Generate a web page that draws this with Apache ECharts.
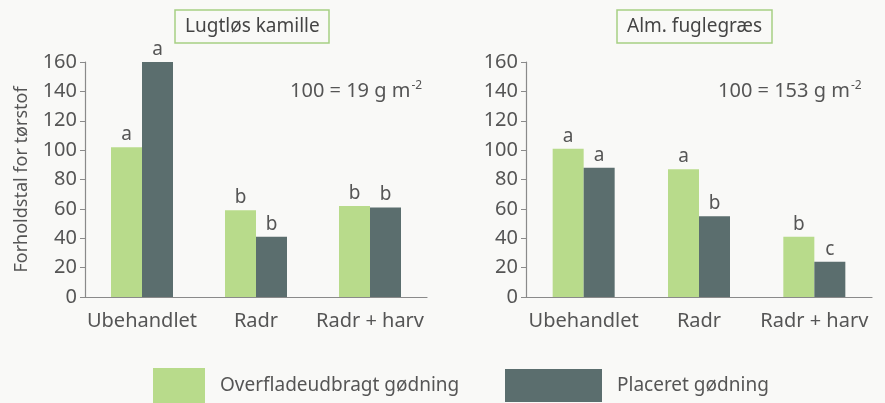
<!DOCTYPE html>
<html>
<head>
<meta charset="utf-8">
<script src="https://cdn.jsdelivr.net/npm/echarts@6/dist/echarts.min.js"></script>
<style>
  html, body { margin: 0; padding: 0; background: #f9f9f7; }
  #chart { width: 885px; height: 403px; }
</style>
</head>
<body>
<div id="chart"></div>
<script>
// data
var categories = ['Ubehandlet', 'Radr', 'Radr + harv'];
var seriesNames = ['Overfladeudbragt gødning', 'Placeret gødning'];

var kamilleOverflade = [102, 59, 62];
var kamillePlaceret = [160, 41, 61];
var kamilleLetters1 = ['a', 'b', 'b'];
var kamilleLetters2 = ['a', 'b', 'b'];

var fuglegraesOverflade = [101, 87, 41];
var fuglegraesPlaceret = [88, 55, 24];
var fuglegraesLetters1 = ['a', 'a', 'b'];
var fuglegraesLetters2 = ['a', 'b', 'c'];

var yTicks = [0, 20, 40, 60, 80, 100, 120, 140, 160];

var green = '#b8db8b';
var dark = '#5b6e6e';
var textColor = '#555';
var font = 'Noto Sans';

var chart = echarts.init(document.getElementById('chart'));

function makeX(grid) {
  return {
    type: 'category',
    gridIndex: grid,
    data: categories,
    axisTick: { show: false },
    axisLine: { lineStyle: { color: '#8a8a8a', width: 1.2 } },
    axisLabel: { interval: 0, color: textColor, fontSize: 20, fontFamily: font, margin: 14 }
  };
}

function makeY(grid, withName) {
  var y = {
    type: 'value',
    gridIndex: grid,
    min: yTicks[0],
    max: yTicks[yTicks.length - 1],
    interval: yTicks[1] - yTicks[0],
    splitLine: { show: false },
    axisLine: { show: true, lineStyle: { color: '#8a8a8a', width: 1.2 } },
    axisTick: { show: true, length: 5, lineStyle: { color: '#8a8a8a' } },
    axisLabel: { color: textColor, fontSize: 20, fontFamily: font, margin: 8 }
  };
  if (withName) {
    y.name = 'Forholdstal for tørstof';
    y.nameLocation = 'middle';
    y.nameGap = 54;
    y.nameTextStyle = { color: textColor, fontSize: 18, fontFamily: font };
  }
  return y;
}

function makeBar(name, data, letters, color, axis) {
  return {
    type: 'bar',
    name: name,
    xAxisIndex: axis,
    yAxisIndex: axis,
    data: data,
    barWidth: 31,
    barGap: '0%',
    itemStyle: { color: color },
    label: {
      show: true,
      position: 'top',
      distance: 3,
      color: textColor,
      fontSize: 19,
      fontFamily: font,
      formatter: function (p) { return letters[p.dataIndex]; }
    }
  };
}

function makeTitle(text, leftX) {
  return {
    text: text,
    left: leftX,
    top: 10,
    padding: [6, 10, 6, 10],
    borderColor: '#a6cf84',
    borderWidth: 1.5,
    textStyle: { color: '#444', fontSize: 19, fontWeight: 'normal', fontFamily: font, lineHeight: 21 }
  };
}

function unitText(x, value) {
  return {
    type: 'text',
    left: x,
    top: 80,
    style: {
      text: '{m|100 = ' + value + ' g m}{s|-2}',
      rich: {
        m: { fontSize: 20, fontFamily: font, fill: textColor },
        s: { fontSize: 12, fontFamily: font, fill: textColor, verticalAlign: 'top', padding: [0, 0, 10, 1] }
      }
    }
  };
}

var option = {
  backgroundColor: '#f9f9f7',
  animation: false,
  title: [
    makeTitle('Lugtløs kamille', 175),
    makeTitle('Alm. fuglegræs', 617)
  ],
  grid: [
    { left: 85, right: 458, top: 62, bottom: 106 },
    { left: 526, right: 13, top: 62, bottom: 106 }
  ],
  xAxis: [makeX(0), makeX(1)],
  yAxis: [makeY(0, true), makeY(1, false)],
  legend: [
    {
      data: [{ name: seriesNames[0], icon: 'rect' }],
      left: 148, top: 363,
      itemWidth: 52, itemHeight: 35,
      itemGap: 0,
      textStyle: { color: textColor, fontSize: 19, fontFamily: font, padding: [32, 0, 0, 10] }
    },
    {
      data: [{ name: seriesNames[1], icon: 'rect' }],
      left: 500, top: 364,
      itemWidth: 97, itemHeight: 33,
      itemGap: 0,
      textStyle: { color: textColor, fontSize: 19, fontFamily: font, padding: [32, 0, 0, 10] }
    }
  ],
  graphic: [
    unitText(290, 19),
    unitText(718, 153)
  ],
  series: [
    makeBar(seriesNames[0], kamilleOverflade, kamilleLetters1, green, 0),
    makeBar(seriesNames[1], kamillePlaceret, kamilleLetters2, dark, 0),
    makeBar(seriesNames[0], fuglegraesOverflade, fuglegraesLetters1, green, 1),
    makeBar(seriesNames[1], fuglegraesPlaceret, fuglegraesLetters2, dark, 1)
  ]
};

chart.setOption(option);
</script>
</body>
</html>
